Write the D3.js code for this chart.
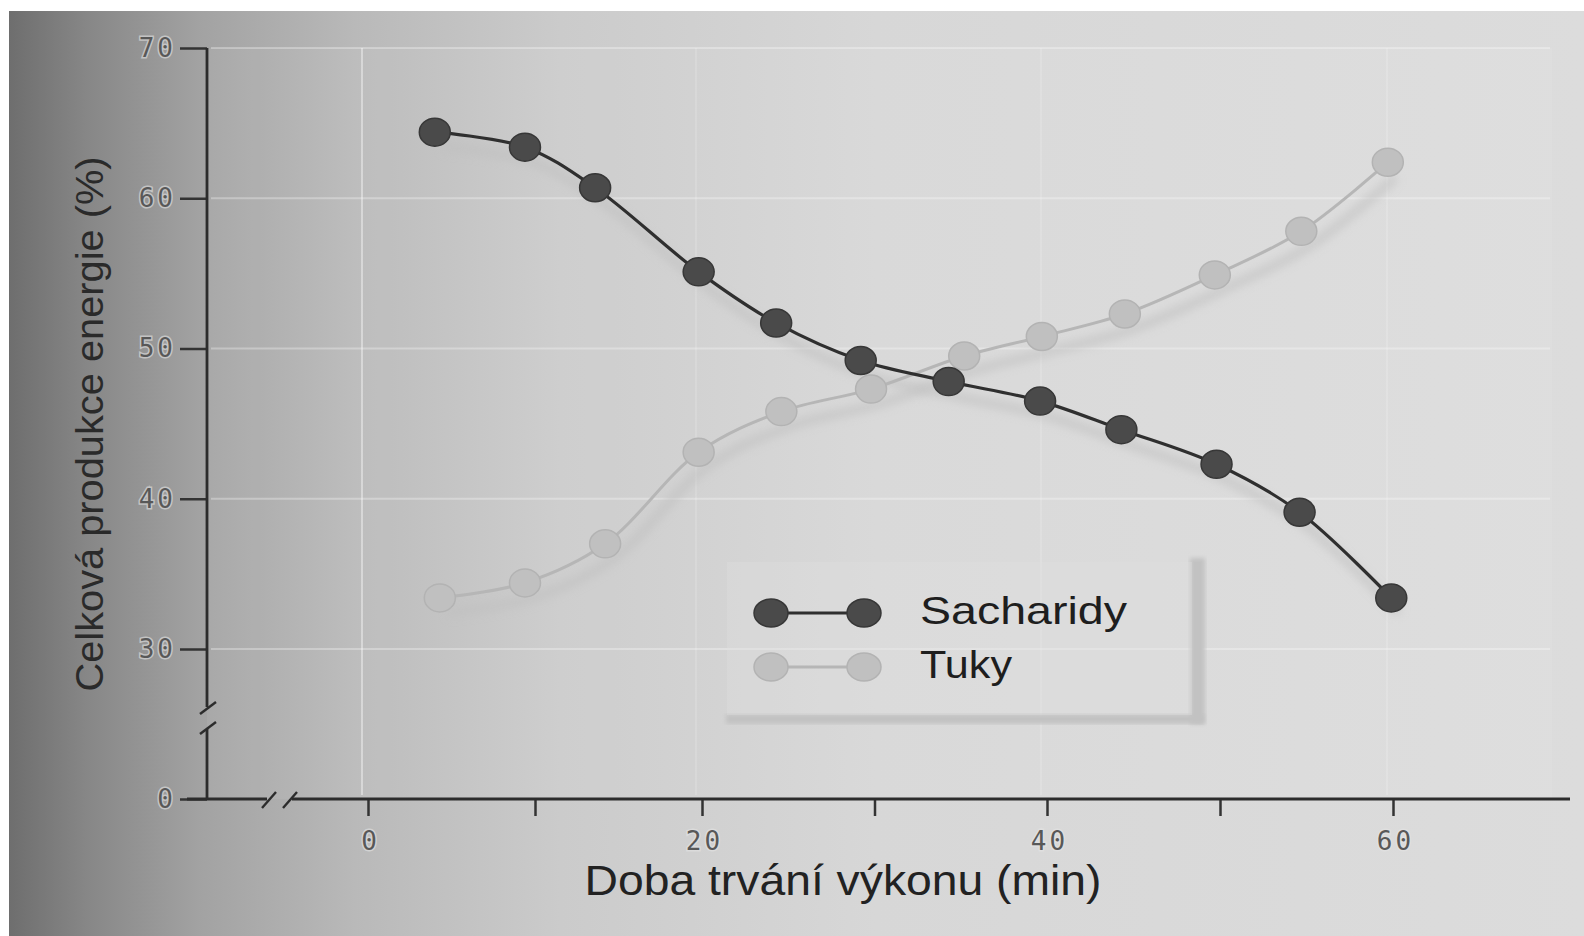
<!DOCTYPE html>
<html>
<head>
<meta charset="utf-8">
<script src="https://cdn.jsdelivr.net/npm/d3@7"></script>
<style>
  html, body { margin: 0; padding: 0; background: #ffffff; }
  svg { display: block; }
</style>
</head>
<body>
<div id="chart"></div>
<script>
// data
const sachMinutes = [4.0, 9.4, 13.6, 19.8, 24.3, 29.2, 34.3, 39.6, 44.3, 49.8, 54.6, 59.9];
const sachValues = [64.4, 63.4, 60.7, 55.1, 51.7, 49.2, 47.8, 46.5, 44.6, 42.3, 39.1, 33.4];
const tukyMinutes = [4.3, 9.4, 14.2, 19.8, 24.6, 29.8, 35.2, 39.7, 44.5, 49.7, 54.7, 59.7];
const tukyValues = [33.4, 34.4, 37.0, 43.1, 45.8, 47.3, 49.5, 50.8, 52.3, 54.9, 57.8, 62.4];
const xTicks = [0, 10, 20, 30, 40, 50, 60];
const xLabels = [0, 20, 40, 60];
const yTicks = [0, 30, 40, 50, 60, 70];
const seriesNames = ['Sacharidy', 'Tuky'];

const W = 1584, H = 936;
const AXIS_X = 207, AXIS_Y = 799, AXIS_RIGHT = 1570;

const root = d3.select('#chart').append('svg').attr('width', W).attr('height', H);
const defs = root.append('defs');

// scan-like background: dark at the left edge, light on the right
const bg = defs.append('linearGradient').attr('id', 'bg').attr('x1', 0).attr('x2', 1).attr('y1', 0).attr('y2', 0);
[[0, '#6e6e6e'], [0.05, '#878787'], [0.12, '#a2a2a2'], [0.22, '#b9b9b9'], [0.35, '#cbcbcb'], [0.55, '#d7d7d7'], [1, '#dcdcdc']]
  .forEach(([o, c]) => bg.append('stop').attr('offset', o).attr('stop-color', c));
defs.append('filter').attr('id', 'blur').attr('x', '-10%').attr('y', '-10%').attr('width', '120%').attr('height', '120%')
  .append('feGaussianBlur').attr('stdDeviation', 4);
defs.append('filter').attr('id', 'blurSoft').append('feGaussianBlur').attr('stdDeviation', 2);

root.append('rect').attr('x', 9).attr('y', 11).attr('width', W - 9).attr('height', H - 11).attr('fill', 'url(#bg)');
// plot area is a touch lighter
root.append('rect').attr('x', AXIS_X).attr('y', 48).attr('width', 1345).attr('height', AXIS_Y - 48)
  .attr('fill', '#ffffff').attr('opacity', 0.06);

const x = d3.scaleLinear().domain([0, 20, 40, 60]).range([368, 702, 1047, 1393]);
const y = d3.scaleLinear().domain([0, 30, 70]).range([AXIS_Y, 649, 48]);

// faint white grid
const grid = root.append('g').attr('class', 'grid');
grid.selectAll('line.h').data(yTicks.filter(d => d >= 30)).join('line')
  .attr('x1', AXIS_X + 4).attr('x2', 1550).attr('y1', d => y(d)).attr('y2', d => y(d))
  .attr('stroke', '#ffffff').attr('stroke-width', 2).attr('opacity', 0.3);
grid.selectAll('line.v').data(xLabels).join('line')
  .attr('x1', d => x(d) - 6).attr('x2', d => x(d) - 6).attr('y1', 48).attr('y2', AXIS_Y - 4)
  .attr('stroke', '#ffffff').attr('stroke-width', 2).attr('opacity', d => d === 0 ? 0.4 : 0.15);

// legend box with its drop shadow
const legend = root.append('g').attr('class', 'legend');
legend.append('rect').attr('x', 1190).attr('y', 558).attr('width', 15).attr('height', 166)
  .attr('fill', '#c2c2c2').attr('filter', 'url(#blurSoft)');
legend.append('rect').attr('x', 726).attr('y', 714).attr('width', 478).attr('height', 10)
  .attr('fill', '#c2c2c2').attr('filter', 'url(#blurSoft)');
legend.append('rect').attr('x', 727).attr('y', 562).attr('width', 465).attr('height', 153)
  .attr('fill', '#e0e0e0').attr('opacity', 0.35);

const series = [
  { name: seriesNames[0], mins: sachMinutes, vals: sachValues, line: '#2f2f2f', lw: 3.2, fill: '#4a4a4a', edge: '#373737' },
  { name: seriesNames[1], mins: tukyMinutes, vals: tukyValues, line: '#b6b6b6', lw: 3, fill: '#c0c0c0', edge: '#b3b3b3' }
];

const lineGen = d3.line().x(d => x(d[0])).y(d => y(d[1])).curve(d3.curveCatmullRom.alpha(0.5));

// shadows under the curves
series.forEach(s => {
  const pts = d3.zip(s.mins, s.vals);
  root.append('path').datum(pts).attr('d', lineGen)
    .attr('transform', 'translate(8,15)')
    .attr('fill', 'none').attr('stroke', '#c0c0c0').attr('stroke-width', 10)
    .attr('opacity', 0.55).attr('filter', 'url(#blur)');
});

series.slice().reverse().forEach(s => {
  const pts = d3.zip(s.mins, s.vals);
  const g = root.append('g').attr('class', 'series');
  g.append('path').datum(pts).attr('d', lineGen)
    .attr('fill', 'none').attr('stroke', s.line).attr('stroke-width', s.lw);
  g.selectAll('ellipse').data(pts).join('ellipse')
    .attr('cx', d => x(d[0])).attr('cy', d => y(d[1]))
    .attr('rx', 15.5).attr('ry', 14)
    .attr('fill', s.fill).attr('stroke', s.edge).attr('stroke-width', 1.5);
});

// legend entries
series.forEach((s, i) => {
  const ly = 613 + i * 54;
  legend.append('line').attr('x1', 771).attr('x2', 864).attr('y1', ly).attr('y2', ly)
    .attr('stroke', s.line).attr('stroke-width', s.lw);
  [771, 864].forEach(cx => legend.append('ellipse').attr('cx', cx).attr('cy', ly).attr('rx', 17).attr('ry', 14)
    .attr('fill', s.fill).attr('stroke', s.edge).attr('stroke-width', 1.5));
  legend.append('text').attr('x', 920).attr('y', ly + 11)
    .attr('font-family', 'Liberation Sans, Arial, sans-serif').attr('font-size', 39)
    .attr('fill', '#1e1e1e')
    .attr('textLength', i === 0 ? 207 : 92).attr('lengthAdjust', 'spacingAndGlyphs')
    .text(s.name);
});

// axes
const tickFont = (sel) => sel.selectAll('text')
  .attr('font-family', 'DejaVu Sans Mono, monospace').attr('font-size', 26)
  .attr('letter-spacing', 3).attr('fill', '#585858')
  .attr('stroke', '#e4e4e4').attr('stroke-width', 3).attr('stroke-opacity', 0.6)
  .attr('paint-order', 'stroke');

const yAxis = root.append('g').attr('transform', `translate(${AXIS_X},0)`)
  .call(d3.axisLeft(y).tickValues(yTicks).tickSize(27).tickSizeOuter(0).tickPadding(4));
yAxis.select('.domain').remove();
yAxis.selectAll('.tick line').attr('stroke', '#333').attr('stroke-width', 2.5);
tickFont(yAxis);

const xAxis = root.append('g').attr('transform', `translate(0,${AXIS_Y})`)
  .call(d3.axisBottom(x).tickValues(xTicks).tickSize(17).tickPadding(16)
    .tickFormat(d => xLabels.includes(d) ? d : ''));
xAxis.select('.domain').remove();
xAxis.selectAll('.tick line').attr('stroke', '#333').attr('stroke-width', 2.5);
tickFont(xAxis);
xAxis.selectAll('text').attr('dx', 2);

// axis lines with the break marks
const axes = root.append('g').attr('stroke', '#2c2c2c').attr('stroke-width', 2.8).attr('fill', 'none');
axes.append('line').attr('x1', AXIS_X).attr('x2', AXIS_X).attr('y1', y(70)).attr('y2', 707);
axes.append('line').attr('x1', AXIS_X).attr('x2', AXIS_X).attr('y1', 729).attr('y2', AXIS_Y + 1);
axes.append('line').attr('x1', AXIS_X - 20).attr('x2', 267).attr('y1', AXIS_Y).attr('y2', AXIS_Y);
axes.append('line').attr('x1', 292).attr('x2', AXIS_RIGHT).attr('y1', AXIS_Y).attr('y2', AXIS_Y);
[[AXIS_X - 7, 714, AXIS_X + 9, 702], [AXIS_X - 7, 734, AXIS_X + 9, 722],
 [262, 808, 276, 792], [283, 808, 297, 792]].forEach(([x1, y1, x2, y2]) =>
  axes.append('line').attr('x1', x1).attr('y1', y1).attr('x2', x2).attr('y2', y2).attr('stroke-width', 2.4));

// titles
root.append('text').attr('x', 843).attr('y', 895).attr('text-anchor', 'middle')
  .attr('font-family', 'Liberation Sans, Arial, sans-serif').attr('font-size', 42).attr('fill', '#222')
  .attr('textLength', 517).attr('lengthAdjust', 'spacingAndGlyphs')
  .text('Doba trvání výkonu (min)');
root.append('text').attr('transform', 'translate(103,424) rotate(-90)').attr('text-anchor', 'middle')
  .attr('font-family', 'Liberation Sans, Arial, sans-serif').attr('font-size', 38).attr('fill', '#2a2a2a')
  .attr('textLength', 535).attr('lengthAdjust', 'spacingAndGlyphs')
  .text('Celková produkce energie (%)');
</script>
</body>
</html>
